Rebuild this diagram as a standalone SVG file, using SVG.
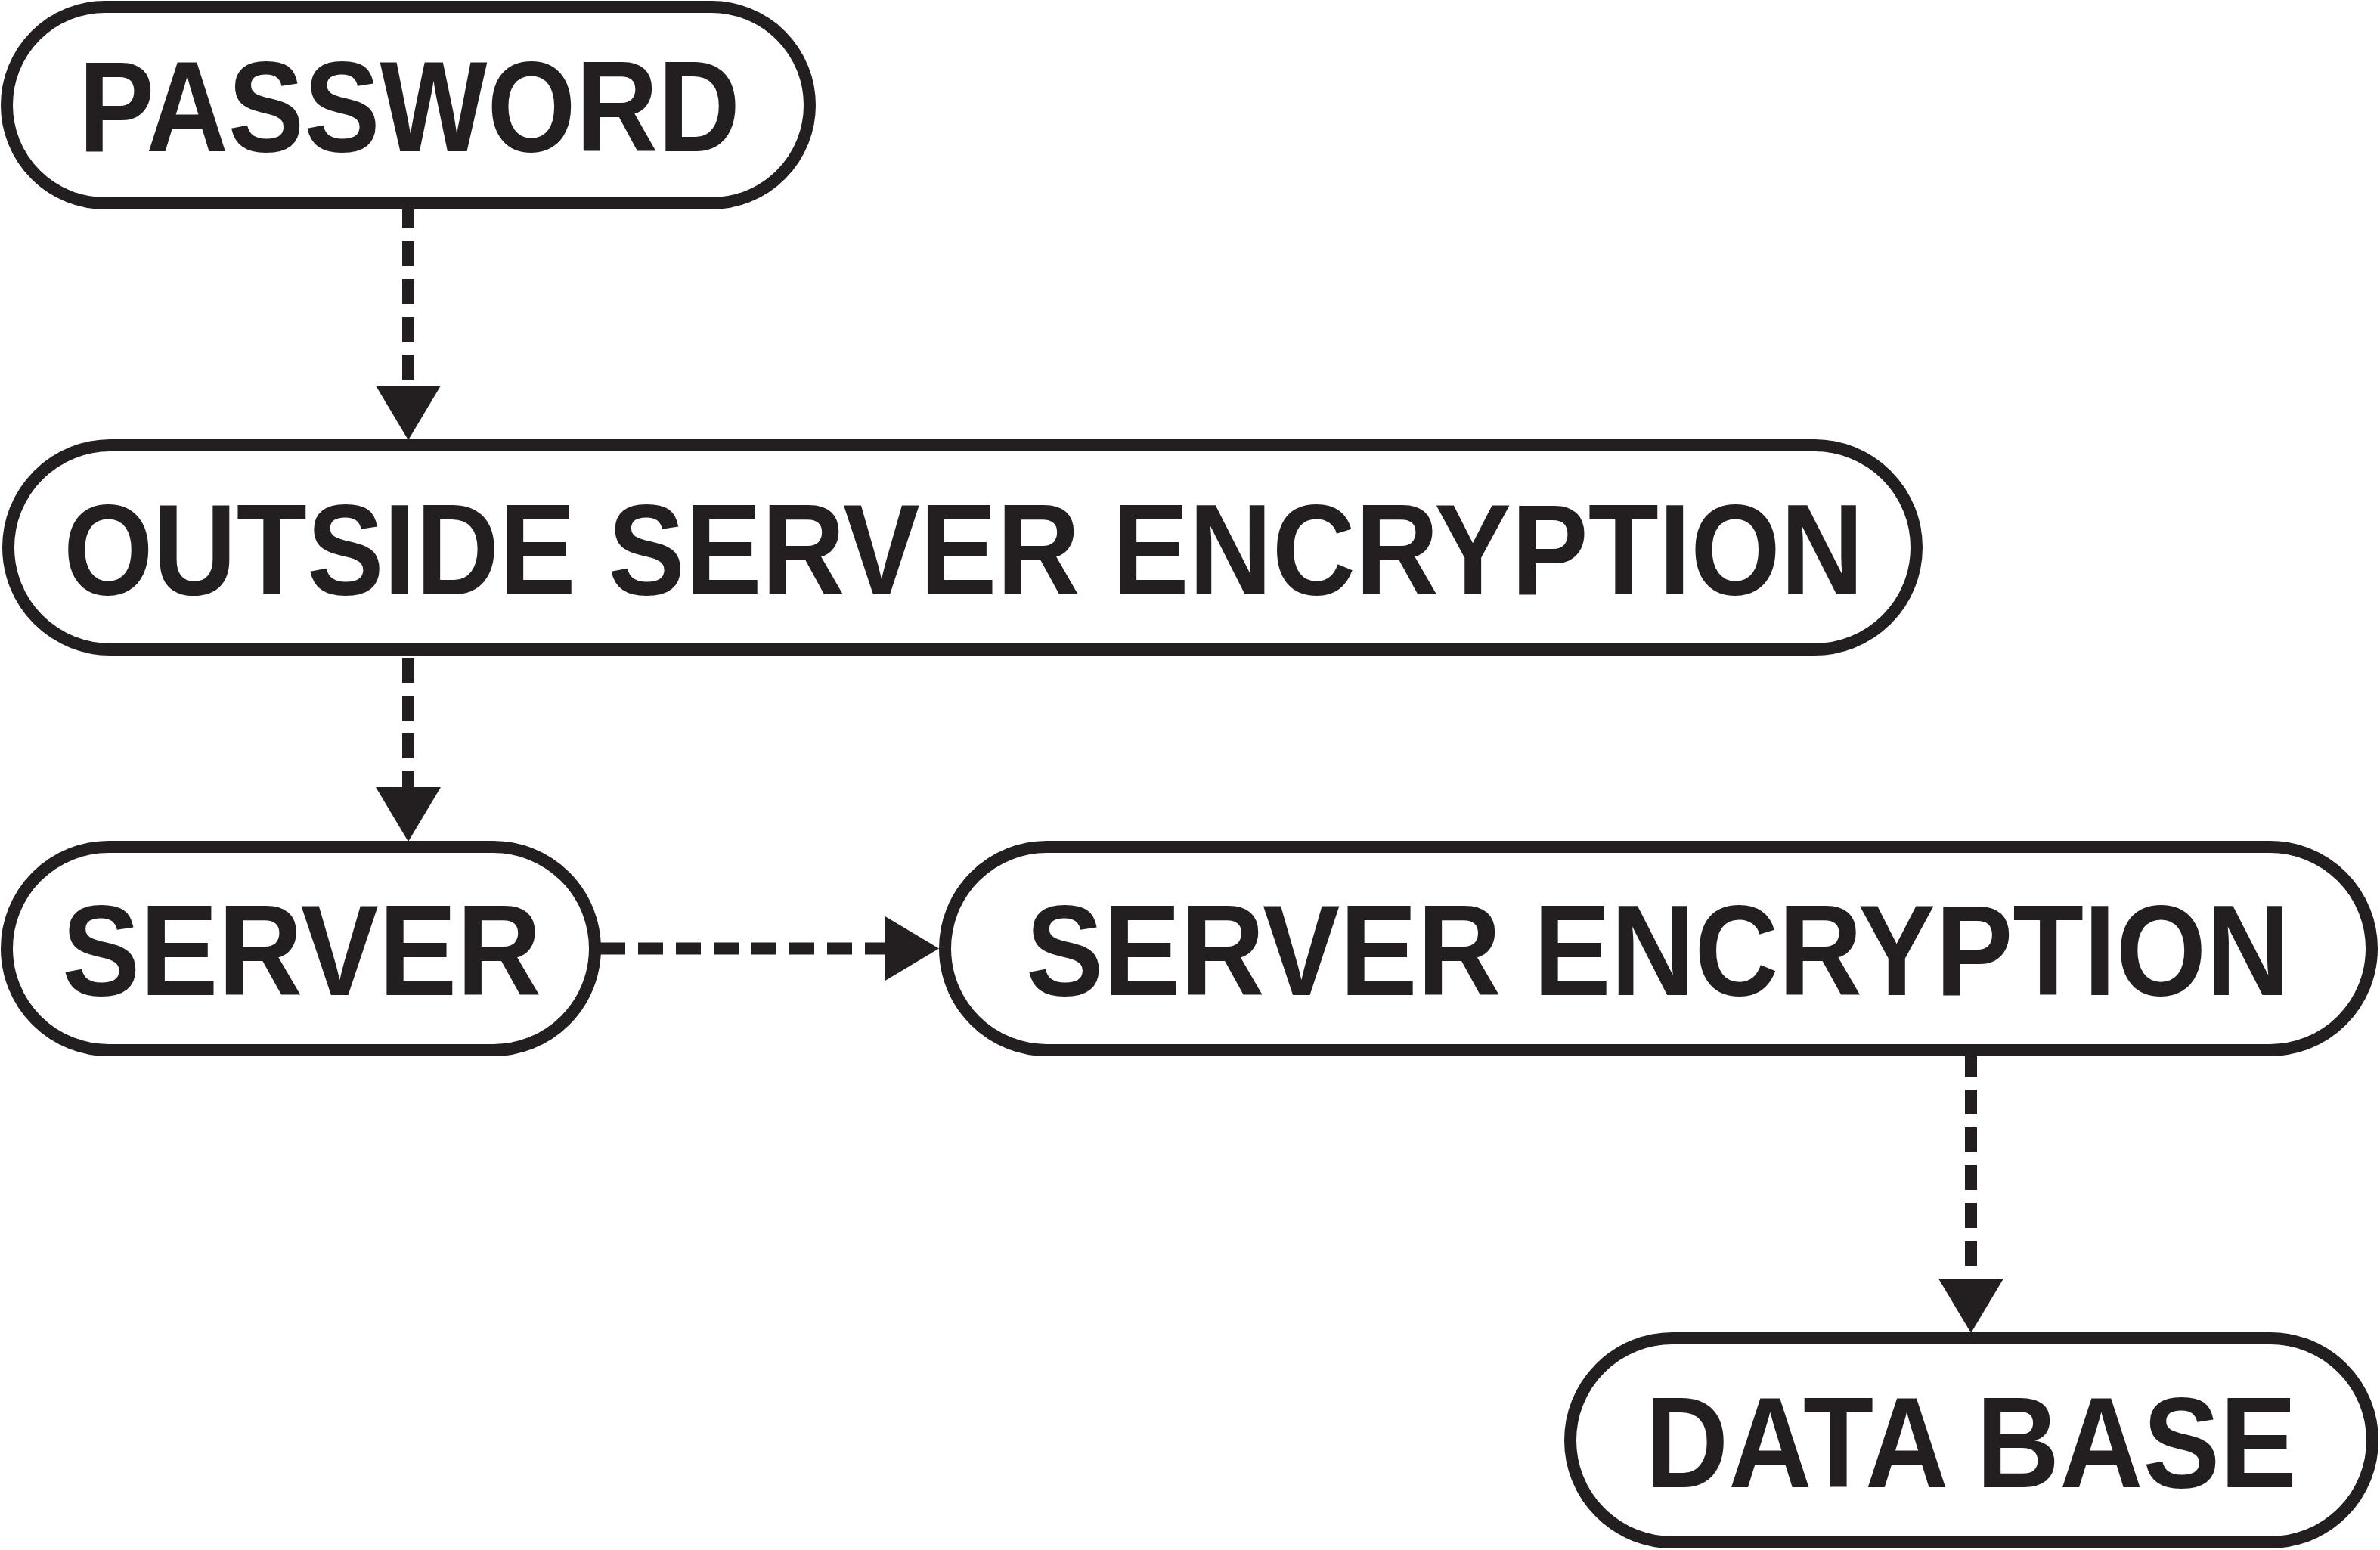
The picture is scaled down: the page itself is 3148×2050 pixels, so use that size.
<svg xmlns="http://www.w3.org/2000/svg" width="3148" height="2050" viewBox="0 0 3148 2050">
<style>
.box{fill:#fff;stroke:#231f20;stroke-width:16}
.lbl{font-family:"Liberation Sans",Arial,sans-serif;font-weight:bold;font-size:170px;fill:#231f20;text-anchor:middle}
.conn{fill:none;stroke:#231f20;stroke-width:16;stroke-dasharray:33 17}
</style>
<defs>
<marker id="arr" viewBox="0 0 72 86" refX="0" refY="43" markerWidth="72" markerHeight="86" markerUnits="userSpaceOnUse" orient="auto">
<path d="M0,0 L72,43 L0,86 Z" fill="#231f20"/>
</marker>
</defs>
<rect width="3148" height="2050" fill="#fff"/>
<g id="connectors">
<line class="conn" x1="540" y1="269" x2="540" y2="510" marker-end="url(#arr)"/>
<line class="conn" x1="540" y1="870" x2="540" y2="1041" marker-end="url(#arr)"/>
<line class="conn" x1="794" y1="1254.5" x2="1170" y2="1254.5" marker-end="url(#arr)"/>
<line class="conn" x1="2607" y1="1391" x2="2607" y2="1691" marker-end="url(#arr)"/>
</g>
<g id="password">
<rect class="box" x="9" y="9" width="1062" height="260" rx="130"/>
<text class="lbl" x="541.5" y="200" textLength="875" lengthAdjust="spacingAndGlyphs">PASSWORD</text>
</g>
<g id="outside-server-encryption">
<rect class="box" x="11" y="589" width="2524" height="270" rx="135"/>
<text class="lbl" x="0" y="0" transform="translate(1274.5,786) scale(1,1.1333)" style="font-size:150px" textLength="2381" lengthAdjust="spacingAndGlyphs">OUTSIDE SERVER ENCRYPTION</text>
</g>
<g id="server">
<rect class="box" x="9" y="1120" width="778" height="269" rx="134.5"/>
<text class="lbl" x="399" y="1316" textLength="634" lengthAdjust="spacingAndGlyphs">SERVER</text>
</g>
<g id="server-encryption">
<rect class="box" x="1250" y="1120" width="1887" height="269" rx="134.5"/>
<text class="lbl" x="2193" y="1316" textLength="1672" lengthAdjust="spacingAndGlyphs">SERVER ENCRYPTION</text>
</g>
<g id="data-base">
<rect class="box" x="2077" y="1770" width="1061" height="270" rx="135"/>
<text class="lbl" x="2607" y="1967" textLength="862" lengthAdjust="spacingAndGlyphs">DATA BASE</text>
</g>
</svg>
